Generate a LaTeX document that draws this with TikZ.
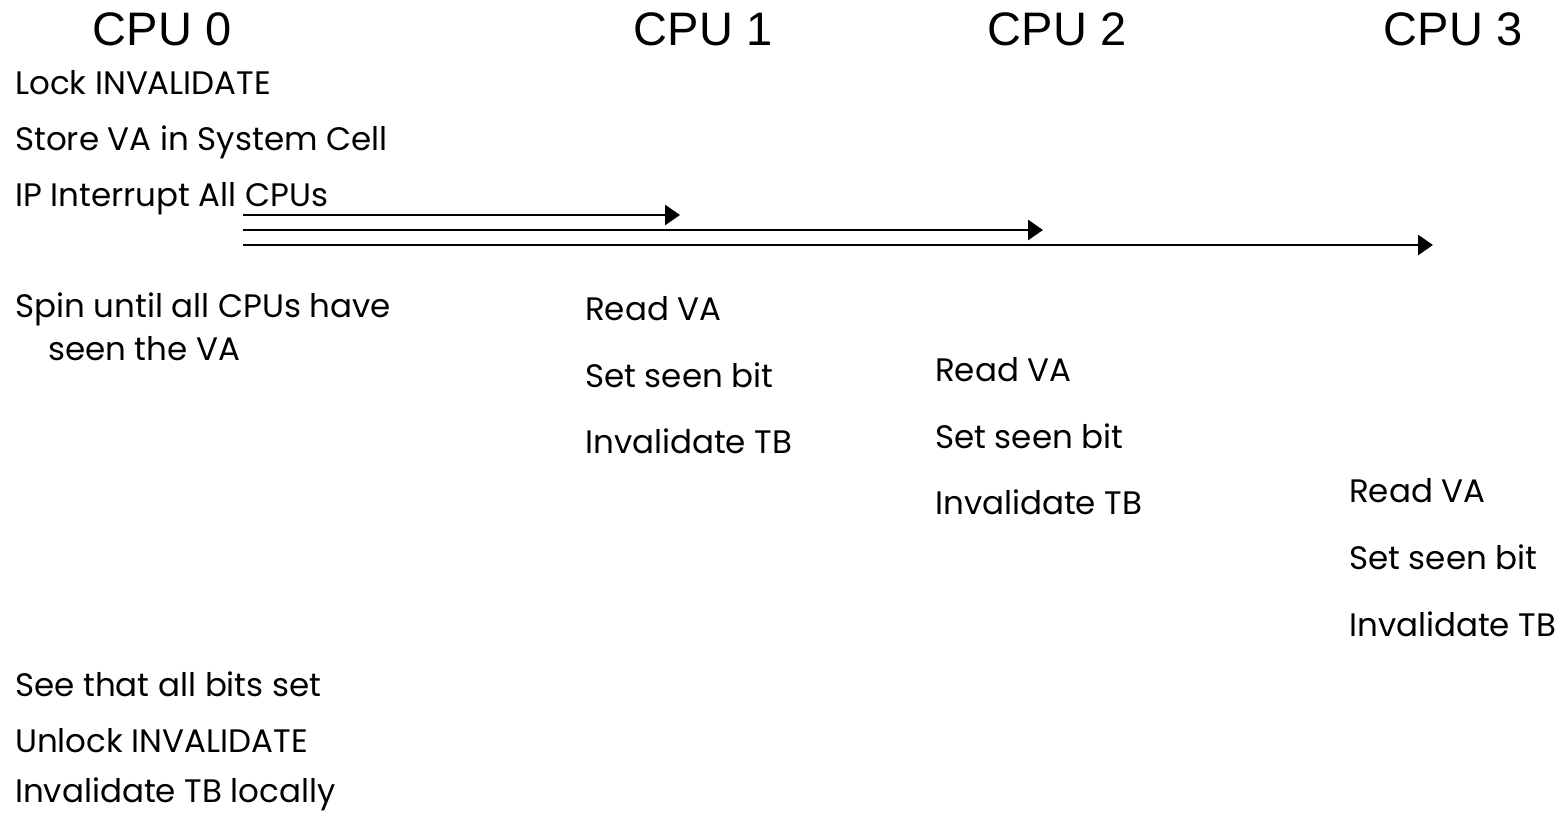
\documentclass[tikz,border=0pt]{standalone}
\usepackage{fontspec}
\setmainfont{Poppins}
\newfontfamily\cpufont{Liberation Sans}
\usetikzlibrary{arrows.meta}
\tikzset{
  cpu/.style={font=\cpufont\fontsize{47}{52}\selectfont, inner sep=0pt, anchor=base},
  txt/.style={font=\fontsize{32.5}{38}\selectfont, inner sep=0pt, anchor=base west},
  msg/.style={line width=2.8pt, -{Triangle[length=15pt,width=20pt]}}
}
\begin{document}
\begin{tikzpicture}[x=1pt,y=-1pt]
\useasboundingbox (0,0) rectangle (1560,813);
\node[cpu] (c0) at (162,46) {CPU 0};
\node[cpu] (c1) at (703,46) {CPU 1};
\node[cpu] (c2) at (1057,46) {CPU 2};
\node[cpu] (c3) at (1453,46) {CPU 3};
\node[txt] (a1) at (15,95) {Lock INVALIDATE};
\node[txt] (a2) at (15,151) {Store VA in System Cell};
\node[txt] (a3) at (15,207) {IP Interrupt All CPUs};
\node[txt] (a4) at (15,317) {Spin until all CPUs have};
\node[txt] (a5) at (48,360) {seen the VA};
\node[txt] (a6) at (15,696) {See that all bits set};
\node[txt] (a7) at (15,752) {Unlock INVALIDATE};
\node[txt] (a8) at (15,802) {Invalidate TB locally};
\node[txt] (b1) at (585,320) {Read VA};
\node[txt] (b2) at (585,387) {Set seen bit};
\node[txt] (b3) at (585,453) {Invalidate TB};
\node[txt] (d1) at (935,381) {Read VA};
\node[txt] (d2) at (935,448) {Set seen bit};
\node[txt] (d3) at (935,514) {Invalidate TB};
\node[txt] (f1) at (1349,502) {Read VA};
\node[txt] (f2) at (1349,569) {Set seen bit};
\node[txt] (f3) at (1349,636) {Invalidate TB};
\coordinate (s1) at (243,215);
\coordinate (s2) at (243,230);
\coordinate (s3) at (243,245);
\coordinate (e1) at (680,215);
\coordinate (e2) at (1043,230);
\coordinate (e3) at (1433,245);
\draw[msg] (s1) -- (e1);
\draw[msg] (s2) -- (e2);
\draw[msg] (s3) -- (e3);
\end{tikzpicture}
\end{document}
